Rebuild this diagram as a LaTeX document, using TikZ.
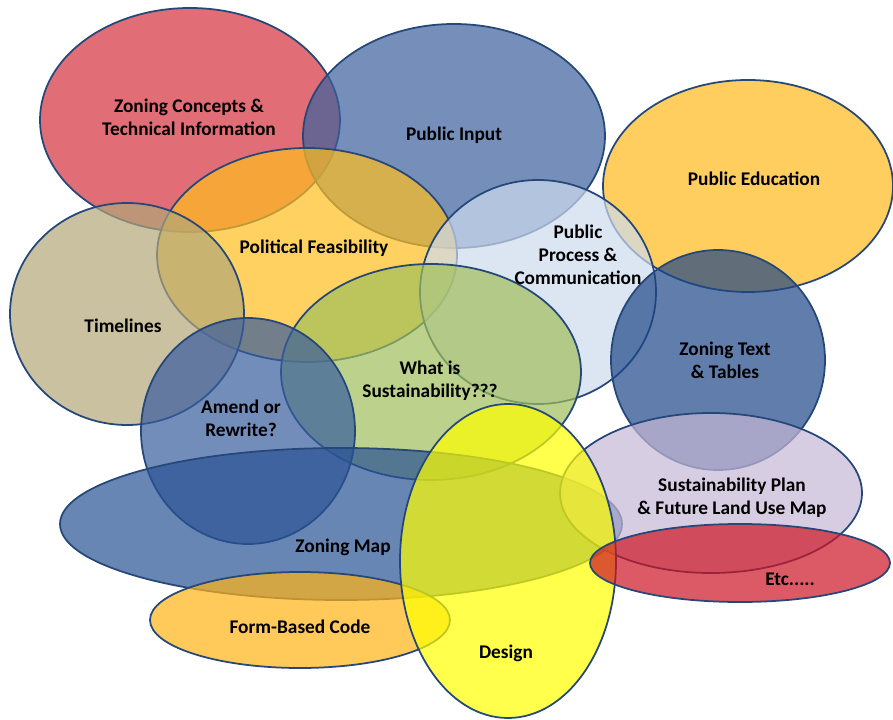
\documentclass[tikz,border=0pt]{standalone}
\usepackage{fontspec}
\setmainfont{Carlito}
\usepackage{tikz}
\usetikzlibrary{calc,positioning}

\definecolor{rimblue}{RGB}{38,72,120}
\definecolor{zcred}{RGB}{212,48,60}
\definecolor{piblue}{RGB}{58,96,156}
\definecolor{pegold}{RGB}{255,185,25}
\definecolor{pfgold}{RGB}{255,190,30}
\definecolor{tltan}{RGB}{178,166,120}
\definecolor{pplight}{RGB}{205,219,238}
\definecolor{ztblue}{RGB}{30,70,135}
\definecolor{wsgreen}{RGB}{160,190,90}
\definecolor{arblue}{RGB}{55,92,158}
\definecolor{zmblue}{RGB}{40,82,148}
\definecolor{splav}{RGB}{198,184,214}
\definecolor{etcred}{RGB}{205,20,35}
\definecolor{fbgold}{RGB}{255,180,20}
\definecolor{dsyellow}{RGB}{255,255,0}

\begin{document}
\begin{tikzpicture}[x=0.03cm, y=0.03cm,
	bubble/.style={draw=rimblue, line width=1.5pt, fill opacity=0.7, draw opacity=1},
	tag/.style={font=\fontsize{16.5}{19.8}\selectfont\bfseries, align=center, text=black}]
	\useasboundingbox (0,0) rectangle (893,719);

	% Bubbles, back to front (y counted from the bottom edge)
	\draw[bubble, fill=zcred] (190,599) ellipse [x radius=150, y radius=112];
	\draw[bubble, fill=piblue] (454,583) ellipse [x radius=151, y radius=112];
	\draw[bubble, fill=pegold] (748,533) ellipse [x radius=145, y radius=106];
	\draw[bubble, fill=pfgold] (307,464) ellipse [x radius=150, y radius=107];
	\draw[bubble, fill=tltan] (127,405) ellipse [x radius=117, y radius=111];
	\draw[bubble, fill=pplight] (538,427) ellipse [x radius=118, y radius=112];
	\draw[bubble, fill=ztblue] (718,359) ellipse [x radius=107, y radius=110];
	\draw[bubble, fill=wsgreen] (431,347) ellipse [x radius=150, y radius=108];
	\draw[bubble, fill=arblue] (248,288) ellipse [x radius=107, y radius=113];
	\draw[bubble, fill=zmblue] (341,195) ellipse [x radius=281, y radius=76];
	\draw[bubble, fill=fbgold] (300,99) ellipse [x radius=150, y radius=48];
	\draw[bubble, fill=splav] (711,226) ellipse [x radius=151, y radius=80];
	\draw[bubble, fill=dsyellow] (508,158) ellipse [x radius=108, y radius=157];
	\draw[bubble, fill=etcred] (740,156) ellipse [x radius=150, y radius=39];

	% Labels
	\node[tag] (zc) at (189,602) {Zoning Concepts \&\\Technical Information};
	\node[tag] (pi) at (454,584) {Public Input};
	\node[tag] (pe) at (754,540) {Public Education};
	\node[tag] (pf) at (314,471) {Political Feasibility};
	\node[tag] (pp) at (578,464) {Public\\Process \&\\Communication};
	\node[tag] (tl) at (123,393) {Timelines};
	\node[tag] (zt) at (725,359) {Zoning Text\\\& Tables};
	\node[tag] (ws) at (430,338) {What is\\Sustainability???};
	\node[tag] (ar) at (241,301) {Amend or\\Rewrite?};
	\node[tag] (zm) at (343,172) {Zoning Map};
	\node[tag] (sp) at (732,221) {Sustainability Plan\\\& Future Land Use Map};
	\node[tag] (etc) at (790,140) {Etc.....};
	\node[tag] (fb) at (300,92) {Form-Based Code};
	\node[tag] (ds) at (506,66) {Design};
\end{tikzpicture}
\end{document}
